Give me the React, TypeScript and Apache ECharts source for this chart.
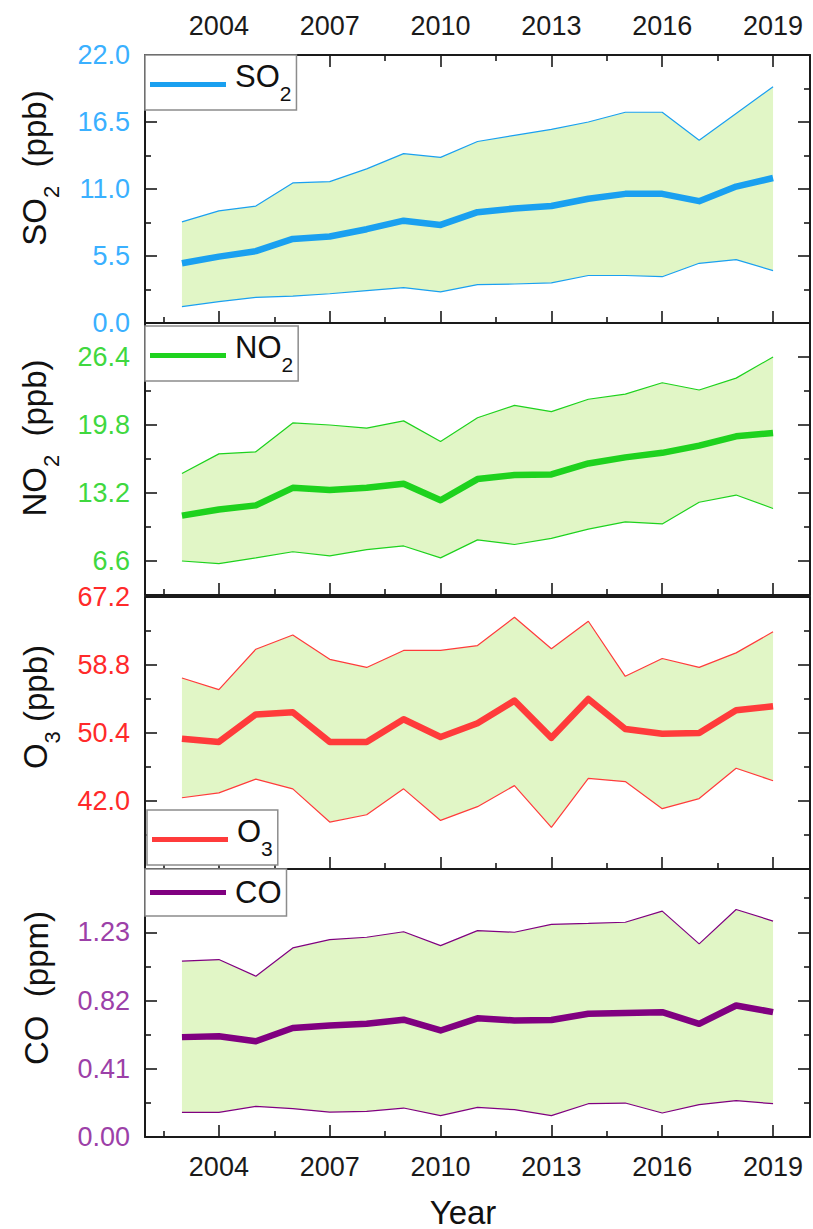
import { useEffect, useRef } from "react";
import * as echarts from "echarts";

// Annual statistics 2003–2019: mean with lower/upper envelope for each pollutant
const years = [2003, 2004, 2005, 2006, 2007, 2008, 2009, 2010, 2011, 2012, 2013, 2014, 2015, 2016, 2017, 2018, 2019];

const so2Mean = [4.9, 5.45, 5.9, 6.9, 7.1, 7.7, 8.4, 8.05, 9.1, 9.4, 9.6, 10.2, 10.6, 10.6, 10.0, 11.2, 11.9];
const so2Upper = [8.3, 9.2, 9.6, 11.5, 11.6, 12.65, 13.9, 13.6, 14.9, 15.4, 15.9, 16.5, 17.3, 17.3, 15.0, 17.2, 19.4];
const so2Lower = [1.35, 1.76, 2.1, 2.2, 2.4, 2.65, 2.9, 2.55, 3.15, 3.2, 3.3, 3.9, 3.9, 3.8, 4.9, 5.2, 4.3];

const no2Mean = [11.0, 11.6, 12.0, 13.7, 13.5, 13.7, 14.1, 12.5, 14.55, 14.95, 15.0, 16.07, 16.66, 17.1, 17.8, 18.7, 19.03];
const no2Upper = [15.1, 17.0, 17.2, 20.0, 19.8, 19.5, 20.2, 18.2, 20.5, 21.7, 21.1, 22.3, 22.8, 23.9, 23.2, 24.35, 26.4];
const no2Lower = [6.6, 6.35, 6.9, 7.5, 7.1, 7.7, 8.06, 6.9, 8.65, 8.2, 8.8, 9.7, 10.4, 10.2, 12.3, 13.0, 11.7];

const o3Mean = [49.7, 49.3, 52.7, 52.96, 49.3, 49.3, 52.1, 49.9, 51.6, 54.4, 49.8, 54.6, 50.9, 50.3, 50.4, 53.2, 53.7];
const o3Upper = [57.2, 55.75, 60.75, 62.5, 59.5, 58.5, 60.6, 60.6, 61.2, 64.7, 60.8, 64.2, 57.4, 59.6, 58.5, 60.3, 62.9];
const o3Lower = [42.4, 43.0, 44.7, 43.5, 39.4, 40.3, 43.5, 39.6, 41.3, 43.9, 38.75, 44.8, 44.4, 41.05, 42.3, 46.05, 44.5];

const coMean = [0.6, 0.605, 0.575, 0.655, 0.67, 0.68, 0.705, 0.64, 0.713, 0.7, 0.703, 0.74, 0.745, 0.75, 0.68, 0.79, 0.75];
const coUpper = [1.056, 1.066, 0.966, 1.136, 1.186, 1.2, 1.233, 1.15, 1.24, 1.23, 1.277, 1.283, 1.29, 1.357, 1.16, 1.367, 1.297];
const coLower = [0.148, 0.148, 0.184, 0.17, 0.15, 0.154, 0.174, 0.128, 0.178, 0.164, 0.128, 0.2, 0.204, 0.144, 0.194, 0.218, 0.2];

// Tick positions
const xMajorTicks = [2004, 2007, 2010, 2013, 2016, 2019];
const xMinorTicks = [2002.5, 2005.5, 2008.5, 2011.5, 2014.5, 2017.5];
const so2Ticks = [0, 5.5, 11, 16.5, 22];
const so2Minor = [2.75, 8.25, 13.75, 19.25];
const no2Ticks = [6.6, 13.2, 19.8, 26.4];
const no2Minor = [9.9, 16.5, 23.1];
const o3Ticks = [42.0, 50.4, 58.8, 67.2];
const o3Minor = [37.8, 46.2, 54.6, 63.0];
const coTicks = [0, 0.41, 0.82, 1.23];
const coMinor = [0.205, 0.615, 1.025, 1.435];

const FONT = "'Liberation Sans', Arial, Helvetica, sans-serif";
const INK = "#1a1a1a";
const BAND = "#e1f6c6";

const panels = [
  {
    name: "SO2", base: "SO", sub: "2", unit: "  (ppb)",
    mean: so2Mean, upper: so2Upper, lower: so2Lower,
    min: 0, max: 22, ticks: so2Ticks, minor: so2Minor, decimals: 1,
    line: "#1aa0f0", label: "#3ab0ff",
    top: 55, height: 268, legendLeft: 145, legendTop: 55, titleX: 34, titleY: 168,
  },
  {
    name: "NO2", base: "NO", sub: "2", unit: "  (ppb)",
    mean: no2Mean, upper: no2Upper, lower: no2Lower,
    min: 3.3, max: 29.7, ticks: no2Ticks, minor: no2Minor, decimals: 1,
    line: "#1ed21e", label: "#3fd83f",
    top: 323, height: 272, legendLeft: 145, legendTop: 326, titleX: 34, titleY: 438,
  },
  {
    name: "O3", base: "O", sub: "3", unit: " (ppb)",
    mean: o3Mean, upper: o3Upper, lower: o3Lower,
    min: 33.6, max: 67.2, ticks: o3Ticks, minor: o3Minor, decimals: 1,
    line: "#ff3b3b", label: "#ff2a2a",
    top: 597, height: 272, legendLeft: 147, legendTop: 810, titleX: 35, titleY: 707,
  },
  {
    name: "CO", base: "CO", sub: "", unit: "  (ppm)",
    mean: coMean, upper: coUpper, lower: coLower,
    min: 0, max: 1.61, ticks: coTicks, minor: coMinor, decimals: 2,
    line: "#800080", label: "#9c40a8",
    top: 869, height: 268, legendLeft: 145, legendTop: 869, titleX: 36, titleY: 988,
  },
];

function buildOption() {
  const grid: any[] = [];
  const xAxis: any[] = [];
  const yAxis: any[] = [];
  const series: any[] = [];
  const legend: any[] = [];
  const graphic: any[] = [];

  const tickStyle = { color: INK, width: 1.6 };
  const lineStyle = { color: INK, width: 2 };

  panels.forEach((p, i) => {
    grid.push({ left: 145, right: 3, top: p.top, height: p.height, containLabel: false });

    const isLast = i === panels.length - 1;
    const xMain = xAxis.length;
    // bottom edge with major ticks (labels on the lowest panel only)
    xAxis.push({
      type: "value", gridIndex: i, min: 2002, max: 2020, position: "bottom",
      axisLine: { show: true, onZero: false, lineStyle },
      axisTick: { show: true, inside: true, length: 12, customValues: xMajorTicks, lineStyle: tickStyle },
      axisLabel: {
        show: isLast, customValues: xMajorTicks, fontSize: 27, color: INK, fontFamily: FONT, margin: 16,
        formatter: (v: number) => String(v),
      },
      splitLine: { show: false },
    });
    // bottom edge minor ticks
    xAxis.push({
      type: "value", gridIndex: i, min: 2002, max: 2020, position: "bottom",
      axisLine: { show: false, onZero: false },
      axisTick: { show: true, inside: true, length: 6, customValues: xMinorTicks, lineStyle: tickStyle },
      axisLabel: { show: false },
      splitLine: { show: false },
    });
    // top edge
    xAxis.push({
      type: "value", gridIndex: i, min: 2002, max: 2020, position: "top",
      axisLine: { show: true, onZero: false, lineStyle },
      axisTick: { show: i === 0, inside: true, length: 12, customValues: xMajorTicks, lineStyle: tickStyle },
      axisLabel: {
        show: i === 0, customValues: xMajorTicks, fontSize: 27, color: INK, fontFamily: FONT, margin: 16,
        formatter: (v: number) => String(v),
      },
      splitLine: { show: false },
    });
    if (i === 0) {
      xAxis.push({
        type: "value", gridIndex: i, min: 2002, max: 2020, position: "top",
        axisLine: { show: false, onZero: false },
        axisTick: { show: true, inside: true, length: 6, customValues: xMinorTicks, lineStyle: tickStyle },
        axisLabel: { show: false },
        splitLine: { show: false },
      });
    }

    const yMain = yAxis.length;
    const fmt = (v: number) => v.toFixed(p.decimals);
    yAxis.push({
      type: "value", gridIndex: i, min: p.min, max: p.max, position: "left",
      axisLine: { show: true, onZero: false, lineStyle },
      axisTick: { show: true, inside: true, length: 12, customValues: p.ticks, lineStyle: tickStyle },
      axisLabel: {
        show: true, customValues: p.ticks, fontSize: 27, color: p.label, fontFamily: FONT, margin: 15,
        formatter: fmt,
      },
      splitLine: { show: false },
    });
    yAxis.push({
      type: "value", gridIndex: i, min: p.min, max: p.max, position: "left",
      axisLine: { show: false, onZero: false },
      axisTick: { show: true, inside: true, length: 6, customValues: p.minor, lineStyle: tickStyle },
      axisLabel: { show: false },
      splitLine: { show: false },
    });
    yAxis.push({
      type: "value", gridIndex: i, min: p.min, max: p.max, position: "right",
      axisLine: { show: true, onZero: false, lineStyle },
      axisTick: { show: true, inside: true, length: 12, customValues: p.ticks, lineStyle: tickStyle },
      axisLabel: { show: false },
      splitLine: { show: false },
    });
    yAxis.push({
      type: "value", gridIndex: i, min: p.min, max: p.max, position: "right",
      axisLine: { show: false, onZero: false },
      axisTick: { show: true, inside: true, length: 6, customValues: p.minor, lineStyle: tickStyle },
      axisLabel: { show: false },
      splitLine: { show: false },
    });

    // shaded range between the lower and upper envelopes
    series.push({
      type: "custom", name: p.name + " range", xAxisIndex: xMain, yAxisIndex: yMain,
      data: years.map((y, k) => [y, p.lower[k], p.upper[k]]),
      encode: { x: 0, y: [1, 2] },
      silent: true,
      z: 1,
      renderItem: (params: any, api: any) => {
        if (params.dataIndex !== 0) return null;
        const top = years.map((y, k) => api.coord([y, p.upper[k]]));
        const bottom = years.map((y, k) => api.coord([y, p.lower[k]])).reverse();
        return {
          type: "polygon",
          shape: { points: top.concat(bottom) },
          style: { fill: BAND, stroke: null },
        };
      },
    });
    // lower envelope
    series.push({
      type: "line", name: p.name + " min", xAxisIndex: xMain, yAxisIndex: yMain,
      data: years.map((y, k) => [y, p.lower[k]]),
      symbol: "none", silent: true,
      lineStyle: { color: p.line, width: 1.2 },
      itemStyle: { color: p.line },
      z: 2,
    });
    // upper envelope
    series.push({
      type: "line", name: p.name + " max", xAxisIndex: xMain, yAxisIndex: yMain,
      data: years.map((y, k) => [y, p.upper[k]]),
      symbol: "none", silent: true,
      lineStyle: { color: p.line, width: 1.2 },
      itemStyle: { color: p.line },
      z: 2,
    });
    // annual mean
    series.push({
      type: "line", name: p.name, xAxisIndex: xMain, yAxisIndex: yMain,
      data: years.map((y, k) => [y, p.mean[k]]),
      symbol: "none", silent: true,
      lineStyle: { color: p.line, width: 6.5, join: "round" },
      itemStyle: { color: p.line },
      z: 3,
    });

    const hasSub = p.sub !== "";
    legend.push({
      data: [p.name],
      left: p.legendLeft, top: p.legendTop,
      orient: "horizontal",
      selectedMode: false,
      icon: "rect", itemWidth: 76, itemHeight: 5,
      backgroundColor: "#ffffff",
      borderColor: "#8c8c8c", borderWidth: 1.5, borderRadius: 0,
      padding: hasSub ? [6, 5, 6, 5] : [8, 5, 8, 5],
      formatter: () => (hasSub ? `{m|${p.base}}{s|${p.sub}}` : `{c|${p.base}}`),
      textStyle: {
        rich: {
          m: { fontSize: 31, fontFamily: FONT, color: "#111", padding: [0, 0, 16, 4] },
          c: { fontSize: 31, fontFamily: FONT, color: "#111", padding: [0, 0, 0, 4] },
          s: { fontSize: 21, fontFamily: FONT, color: "#111", padding: [18, 0, 0, 0] },
        },
      },
      z: 10,
    });

    graphic.push({
      type: "text",
      x: p.titleX, y: p.titleY,
      rotation: Math.PI / 2,
      style: {
        text: hasSub ? `{m|${p.base}}{s|${p.sub}}{m|${p.unit}}` : `{m|${p.base}${p.unit}}`,
        align: "center", verticalAlign: "middle",
        rich: {
          m: { fontSize: 33, fontFamily: FONT, fill: "#111", lineHeight: 56 },
          s: { fontSize: 22, fontFamily: FONT, fill: "#111", lineHeight: 22, verticalAlign: "bottom" },
        },
      },
    });
  });

  graphic.push({
    type: "text",
    x: 463, y: 1212,
    style: {
      text: "Year", fontSize: 33, fontFamily: FONT, fill: "#111",
      align: "center", verticalAlign: "middle",
    },
  });

  return {
    animation: false,
    backgroundColor: "#ffffff",
    grid, xAxis, yAxis, series, legend, graphic,
  };
}

export default function App() {
  const ref = useRef<HTMLDivElement>(null);
  useEffect(() => {
    if (!ref.current) return;
    const chart = echarts.init(ref.current, undefined, { renderer: "svg" });
    chart.setOption(buildOption() as any);
    return () => chart.dispose();
  }, []);
  return (
    <div
      ref={ref}
      style={{ position: "absolute", left: 0, top: 0, width: 813, height: 1229, background: "#fff" }}
    />
  );
}
